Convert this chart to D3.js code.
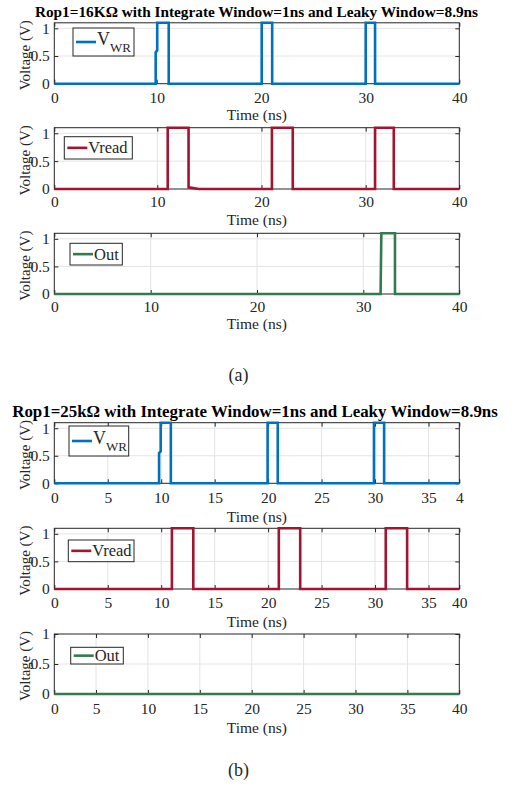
<!DOCTYPE html>
<html>
<head>
<meta charset="utf-8">
<script src="https://cdn.jsdelivr.net/npm/d3@7"></script>
<style>
  body { margin: 0; background: #fff; }
  text { font-family: "Liberation Serif", "Times New Roman", serif; }
</style>
</head>
<body>
<svg id="chart" width="517" height="787"></svg>
<script>
// ---- data ----
var yTicks = [0, 0.5, 1]
var xTicksA = [0, 10, 20, 30, 40]
var xLabelsA = ['0', '10', '20', '30', '40']
var xTicksB = [0, 5, 10, 15, 20, 25, 30, 35, 40]
var xLabelsB = ['0', '5', '10', '15', '20', '25', '30', '35', '40']
var xLabelsB1 = ['0', '5', '10', '15', '20', '25', '30', '35', '4']

// (a) Rop1 = 16K
var tVwrA = [0, 9.9, 9.9, 10.05, 10.05, 11.15, 11.15, 20.05, 20.05, 21.05, 21.05, 30, 30, 31, 31, 40]
var vVwrA = [0, 0, 0.57, 0.6, 1.1, 1.1, 0, 0, 1.1, 1.1, 0, 0, 1.1, 1.1, 0, 0]
var tReadA = [0, 11, 11, 13, 13, 14, 21, 21, 23, 23, 31, 31, 33, 33, 40]
var vReadA = [0, 0, 1.1, 1.1, 0.03, 0, 0, 1.1, 1.1, 0, 0, 1.1, 1.1, 0, 0]
var tOutA = [0, 31.8, 31.88, 33.3, 33.3, 40]
var vOutA = [0, 0, 1.1, 1.1, 0, 0]

// (b) Rop1 = 25k
var tVwrB = [0, 9.8, 9.8, 9.95, 9.95, 10.9, 10.9, 19.95, 19.95, 20.9, 20.9, 29.9, 29.9, 30.85, 30.85, 40]
var vVwrB = [0, 0, 0.55, 0.58, 1.1, 1.1, 0, 0, 1.1, 1.1, 0, 0, 1.1, 1.1, 0, 0]
var tReadB = [0, 11, 11, 13, 13, 21, 21, 23, 23, 31, 31, 33, 33, 40]
var vReadB = [0, 0, 1.1, 1.1, 0, 0, 1.1, 1.1, 0, 0, 1.1, 1.1, 0, 0]
var tOutB = [0, 40]
var vOutB = [0, 0]

var blue = '#0072bd', red = '#a2142f', green = '#347a50'
var axisColor = '#262626', gridColor = '#e4e4e4'

var svg = d3.select('#chart')

// the exported figure has slightly uneven x spacing, so the scales are piecewise
var panels = [
  { top: 22.8, bottom: 83.7, ymax: 1.1, xd: [0, 10, 30, 40], xr: [54.3, 156.7, 365.7, 459.3],
    xt: xTicksA, xl: xLabelsA, t: tVwrA, v: vVwrA, color: blue, name: 'VWR',
    leg: [73, 28, 61, 28], tickY: 97.5, labelY: 115 },
  { top: 127.7, bottom: 189, ymax: 1.1, xd: [0, 10, 30, 40], xr: [54.3, 157.3, 365.7, 459.3],
    xt: xTicksA, xl: xLabelsA, t: tReadA, v: vReadA, color: red, name: 'Vread',
    leg: [64.3, 136.7, 68, 22.3], tickY: 201.5, labelY: 220 },
  { top: 233.3, bottom: 294, ymax: 1.1, xd: [0, 10, 30, 40], xr: [54.3, 150.7, 363.3, 459.3],
    xt: xTicksA, xl: xLabelsA, t: tOutA, v: vOutA, color: green, name: 'Out',
    leg: [70, 243.3, 52.3, 21.7], tickY: 306.7, labelY: 324 },
  { top: 422.7, bottom: 483.3, ymax: 1.1, xd: [0, 35, 40], xr: [54.3, 428.5, 459.3],
    xt: xTicksB, xl: xLabelsB1, t: tVwrB, v: vVwrB, color: blue, name: 'VWR',
    leg: [69, 426, 59.7, 30], tickY: 498.3, labelY: 516.5 },
  { top: 528.3, bottom: 589, ymax: 1.1, xd: [0, 35, 40], xr: [54.3, 428.5, 459.3],
    xt: xTicksB, xl: xLabelsB, t: tReadB, v: vReadB, color: red, name: 'Vread',
    leg: [68.3, 540, 65.7, 21.7], tickY: 603, labelY: 621.5 },
  { top: 634, bottom: 694, ymax: 1, xd: [0, 5, 40], xr: [54.3, 96, 459.3],
    xt: xTicksB, xl: xLabelsB, t: tOutB, v: vOutB, color: green, name: 'Out',
    leg: [70.7, 647.3, 52.6, 16.7], tickY: 709.3, labelY: 728.3 }
]

function drawPanel(p) {
  var x = d3.scaleLinear().domain(p.xd).range(p.xr)
  var y = d3.scaleLinear().domain([0, p.ymax]).range([p.bottom, p.top])
  var left = p.xr[0], right = p.xr[p.xr.length - 1]
  var g = svg.append('g')

  // grid
  g.selectAll('.gx').data(p.xt.filter(d => x(d) > left + 1 && x(d) < right - 1))
    .enter().append('line')
    .attr('x1', d => x(d)).attr('x2', d => x(d))
    .attr('y1', p.top).attr('y2', p.bottom)
    .attr('stroke', gridColor).attr('stroke-width', 1)
  g.selectAll('.gy').data(yTicks.filter(d => d > 0 && y(d) > p.top + 1))
    .enter().append('line')
    .attr('x1', left).attr('x2', right)
    .attr('y1', d => y(d)).attr('y2', d => y(d))
    .attr('stroke', gridColor).attr('stroke-width', 1)

  // box
  g.append('rect')
    .attr('x', left).attr('y', p.top)
    .attr('width', right - left).attr('height', p.bottom - p.top)
    .attr('fill', 'none').attr('stroke', axisColor).attr('stroke-width', 1)

  // inward ticks on all four sides
  var xb = g.append('g').attr('transform', `translate(0,${p.bottom})`)
    .call(d3.axisBottom(x).tickValues(p.xt).tickSize(-4).tickSizeOuter(0).tickPadding(7)
      .tickFormat((d, i) => p.xl[i]))
  var xtop = g.append('g').attr('transform', `translate(0,${p.top})`)
    .call(d3.axisTop(x).tickValues(p.xt).tickSize(-4).tickSizeOuter(0).tickFormat(''))
  var yl = g.append('g').attr('transform', `translate(${left},0)`)
    .call(d3.axisLeft(y).tickValues(yTicks).tickSize(-4).tickSizeOuter(0).tickPadding(4.5)
      .tickFormat(d => d))
  var yr = g.append('g').attr('transform', `translate(${right},0)`)
    .call(d3.axisRight(y).tickValues(yTicks).tickSize(-4).tickSizeOuter(0).tickFormat(''))
  ;[xb, xtop, yl, yr].forEach(a => {
    a.select('.domain').remove()
    a.selectAll('line').attr('stroke', axisColor)
    a.selectAll('text').attr('fill', axisColor).attr('font-size', 15.5)
      .attr('font-family', '"Liberation Serif", serif')
  })
  xb.selectAll('text').attr('y', null).attr('dy', null)
    .attr('transform', `translate(0,${p.tickY - p.bottom + 5})`)

  // axis titles
  g.append('text')
    .attr('x', (left + right) / 2).attr('y', p.labelY + 5)
    .attr('text-anchor', 'middle').attr('font-size', 15.5).attr('fill', axisColor)
    .text('Time (ns)')
  g.append('text')
    .attr('transform', `translate(30,${(p.top + p.bottom) / 2 + 2}) rotate(-90)`)
    .attr('text-anchor', 'middle').attr('font-size', 15).attr('fill', axisColor)
    .text('Voltage (V)')

  // signal
  var line = d3.line().x((d, i) => x(p.t[i])).y(d => y(d))
  g.append('path')
    .datum(p.v)
    .attr('d', line)
    .attr('fill', 'none')
    .attr('stroke', p.color)
    .attr('stroke-width', 2.6)
    .attr('stroke-linejoin', 'miter')

  // legend
  var lg = g.append('g').attr('transform', `translate(${p.leg[0]},${p.leg[1]})`)
  var lw = p.leg[2], lh = p.leg[3]
  lg.append('rect').attr('width', lw).attr('height', lh)
    .attr('fill', '#fff').attr('stroke', axisColor).attr('stroke-width', 1)
  lg.append('line').attr('x1', 3).attr('x2', 23).attr('y1', lh / 2).attr('y2', lh / 2)
    .attr('stroke', p.color).attr('stroke-width', 2.6)
  var lt = lg.append('text').attr('x', 24).attr('fill', axisColor)
  if (p.name === 'VWR') {
    lt.attr('y', lh / 2 + 3)
    lt.append('tspan').attr('font-size', 18).text('V')
    lt.append('tspan').attr('font-size', 13).attr('dy', 7).text('WR')
  } else {
    lt.attr('y', lh / 2 + 5.5).attr('font-size', 16.5).text(p.name)
  }
}

panels.forEach(drawPanel)

// titles and captions
svg.append('text').attr('x', 256.5).attr('y', 16.5)
  .attr('text-anchor', 'middle').attr('font-size', 15.3).attr('font-weight', 'bold')
  .text('Rop1=16K\u03A9 with Integrate Window=1ns and Leaky Window=8.9ns')
svg.append('text').attr('x', 255).attr('y', 417)
  .attr('text-anchor', 'middle').attr('font-size', 16.9).attr('font-weight', 'bold')
  .text('Rop1=25k\u03A9 with Integrate Window=1ns and Leaky Window=8.9ns')
svg.append('text').attr('x', 238.5).attr('y', 381)
  .attr('text-anchor', 'middle').attr('font-size', 18).attr('fill', axisColor).text('(a)')
svg.append('text').attr('x', 238.5).attr('y', 776)
  .attr('text-anchor', 'middle').attr('font-size', 18).attr('fill', axisColor).text('(b)')
</script>
</body>
</html>
